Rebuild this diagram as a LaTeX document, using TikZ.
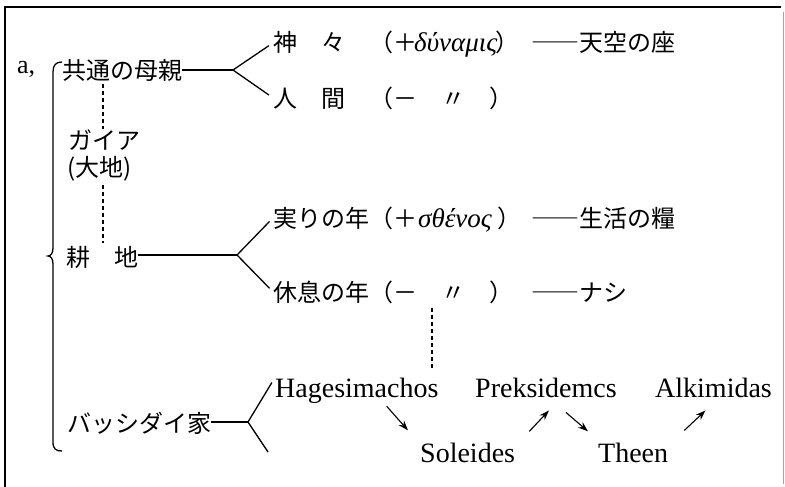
\documentclass[tikz,border=0pt]{standalone}
\usepackage{fontspec}
\setmainfont{Liberation Serif}
\newfontfamily\jp{Noto Sans CJK JP}
\usetikzlibrary{arrows.meta}
\tikzset{
  jp/.style={font=\jp\fontsize{24}{24}\selectfont, inner sep=0pt, anchor=base west},
  gr/.style={font=\fontsize{27}{27}\selectfont\itshape, inner sep=0pt, anchor=base west},
  lat/.style={font=\fontsize{28}{28}\selectfont, inner sep=0pt, anchor=base west},
  tree/.style={line width=1.3pt},
  dotline/.style={line width=1.5pt, dash pattern=on 4pt off 3pt},
  arr/.style={line width=1.1pt, -{Stealth[length=10pt,width=7pt]}},
}
\begin{document}
\begin{tikzpicture}[x=1pt,y=-1pt]
\useasboundingbox (0,0) rectangle (785,487);
% frame
\draw[line width=1.3pt] (5,487) -- (5,7) -- (781,7);
\draw[gray!70, line width=1pt] (783,12) -- (783,484);
% label a,
\node[lat, font=\fontsize{26}{26}\selectfont] (a) at (17,74) {a,};
% brace
\draw[tree] (62,62) .. controls (56,62) and (53,65) .. (53,72) -- (53,248)
  .. controls (53,253) and (51,256) .. (48,256)
  .. controls (51,256) and (53,259) .. (53,264) -- (53,442)
  .. controls (53,449) and (56,451) .. (62,451);
% left column
\node[jp] (mother) at (62,80) {共通の母親};
\node[jp] (gaia) at (68,149) {ガイア};
\node[jp] (daichi) at (67,176) {(大地)};
\node[jp] (kochi) at (66,266) {耕　地};
\node[jp] (bass) at (67,432) {バッシダイ家};
\coordinate (dx) at (103,0);
\draw[dotline, shorten <=2pt] (mother.south -| dx) -- (gaia.north -| dx);
\draw[dotline, shorten <=4pt, shorten >=3pt] (daichi.south -| dx) -- (kochi.north -| dx);
% forks
\coordinate (f1) at (233,70);
\coordinate (f2) at (237,255);
\coordinate (f3) at (248,422);
\coordinate (f3b) at (268,452);
% row 1
\node[jp] (r1) at (273,52) {神　々　（＋};
\node[gr] (r1g) at (414,52) {δύναμις};
\node[jp] (r1c) at (495,52) {）};
\node[jp] (r1d) at (531,52) {――天空の座};
% row 2
\node[jp] (r2) at (273,107) {人　間　（－　〃　）};
% row 3
\node[jp] (r3) at (273,227) {実りの年（＋};
\node[gr] (r3g) at (418,227) {σθένος};
\node[jp] (r3c) at (497,227) {）};
\node[jp] (r3d) at (531,227) {――生活の糧};
% row 4
\node[jp] (r4) at (273,301) {休息の年（－　〃　）};
\node[jp] (r4d) at (531,301) {――ナシ};
% tree lines
\draw[tree] (mother.east |- f1) -- (f1);
\draw[tree, shorten >=5pt] (f1) -- (r1.west);
\draw[tree, shorten >=5pt] (f1) -- (r2.west);
\draw[tree] (kochi.east |- f2) -- (f2);
\draw[tree, shorten >=5pt] (f2) -- (r3.west);
\draw[tree, shorten >=5pt] (f2) -- (r4.west);
% family names
\node[lat] (H) at (275,397) {Hagesimachos};
\node[lat] (P) at (475,397) {Preksidemcs};
\node[lat] (A) at (655,397) {Alkimidas};
\node[lat] (S) at (420,462) {Soleides};
\node[lat] (T) at (598,462) {Theen};
\draw[tree] (bass.east |- f3) -- (f3);
\draw[tree, shorten >=6pt] (f3) -- (H.north west);
\draw[tree] (f3) -- (f3b);
\coordinate (dx2) at (432,0);
\draw[dotline, shorten <=4pt, shorten >=7pt] (r4.south -| dx2) -- (H.north -| dx2);
% arrows
\draw[arr] ([shift={(-52pt,-3pt)}]H.south east) -- ([shift={(-12pt,12pt)}]S.north west);
\draw[arr] ([shift={(14pt,11pt)}]S.north east) -- ([shift={(3pt,-13pt)}]P.south);
\draw[arr] ([shift={(20pt,-15pt)}]P.south) -- ([shift={(-10pt,11pt)}]T.north west);
\draw[arr] ([shift={(16pt,12pt)}]T.north east) -- ([shift={(-8pt,-13pt)}]A.south);
\end{tikzpicture}
\end{document}
